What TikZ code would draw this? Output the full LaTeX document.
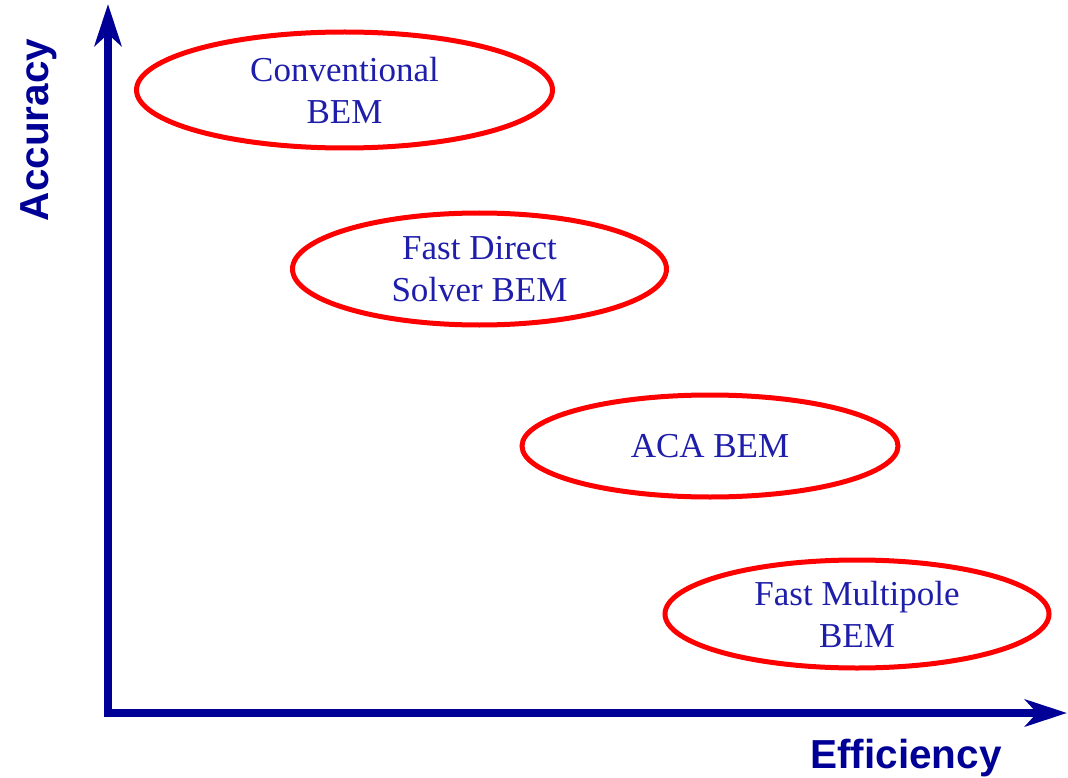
\documentclass[tikz,border=0pt]{standalone}
\usepackage{fontspec}
\setmainfont{Liberation Serif}
\newfontfamily\labelfont{Liberation Sans}
\usetikzlibrary{arrows.meta,shapes.geometric}
\definecolor{axisblue}{RGB}{0,0,150}
\definecolor{textblue}{RGB}{30,30,170}
\definecolor{ellred}{RGB}{255,0,0}
\begin{document}
\begin{tikzpicture}[x=1pt,y=-1pt,
  method/.style={ellipse,draw=ellred,line width=5pt,inner sep=0pt,align=center,
    text=textblue,font=\fontsize{35}{42}\selectfont},
  axis/.style={draw=axisblue,line width=8pt,line join=miter,
    {Stealth[length=42pt,width=27pt,inset=12pt]}-{Stealth[length=42pt,width=27pt,inset=12pt]}},
  axislabel/.style={text=axisblue,inner sep=0pt,font=\labelfont\bfseries\fontsize{40.5}{48}\selectfont}]
\useasboundingbox (0,0) rectangle (1068,778);
\coordinate (origin) at (108,713);
\coordinate (ytip) at (108,4);
\coordinate (xtip) at (1067,713);
\draw[axis] (ytip) -- (origin) -- (xtip);
\node[axislabel,rotate=90] (acc) at (39,130) {Accuracy};
\node[axislabel] (eff) at (906,758) {Efficiency};
\node[method,minimum width=416pt,minimum height=116pt] (conv) at (344.5,90) {Conventional\\BEM};
\node[method,minimum width=374pt,minimum height=112pt] (fds) at (479.5,269) {Fast Direct\\Solver BEM};
\node[method,minimum width=376pt,minimum height=102pt] (aca) at (710,446) {ACA BEM};
\node[method,minimum width=384pt,minimum height=108pt] (fmm) at (857,614) {Fast Multipole\\BEM};
\end{tikzpicture}
\end{document}
